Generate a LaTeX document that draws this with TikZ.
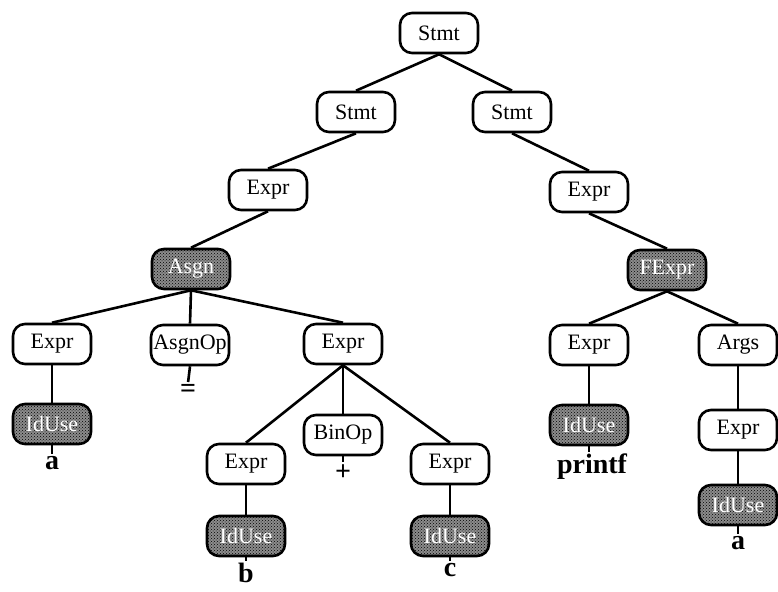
\documentclass[tikz,border=0pt]{standalone}
\usepackage{fontspec}
\setmainfont{Liberation Serif}
\usetikzlibrary{patterns}
\begin{document}
\begin{tikzpicture}[x=1pt,y=-1pt,
  tn/.style={draw, line width=2.6pt, rounded corners=12pt, minimum width=78pt,
    minimum height=40pt, inner xsep=2pt, inner ysep=0pt,
    font=\fontsize{22}{22}\selectfont},
  sh/.style={tn, preaction={fill=black!45}, pattern=crosshatch dots, pattern color=black, text=white},
  leaf/.style={font=\bfseries\fontsize{28}{28}\selectfont, inner sep=1pt},
  edge/.style={line width=2.6pt},
  tick/.style={line width=2.6pt, shorten >=1pt}]
\useasboundingbox (0,0) rectangle (778,591);

% nodes
\node[tn] (root) at (439,33) {Stmt};
\node[tn] (sl) at (356,112) {Stmt};
\node[tn] (sr) at (512,112) {Stmt};
\node[tn] (el) at (268,190) {Expr};
\node[tn] (er) at (589,192) {Expr};
\node[sh] (asgn) at (191,269) {Asgn};
\node[sh] (fexpr) at (667,270) {FExpr};
\node[tn] (e1) at (52,344) {Expr};
\node[tn] (aop) at (190,345) {AsgnOp};
\node[tn] (e2) at (343,344) {Expr};
\node[tn] (e3) at (589,345) {Expr};
\node[tn] (args) at (738,345) {Args};
\node[sh] (id1) at (52,424) {IdUse};
\node[tn] (binop) at (343,435) {BinOp};
\node[tn] (e4) at (246,464) {Expr};
\node[tn] (e5) at (450,464) {Expr};
\node[sh] (id3) at (589,425) {IdUse};
\node[tn] (e6) at (738,430) {Expr};
\node[sh] (id4) at (738,505) {IdUse};
\node[sh] (idb) at (246,536) {IdUse};
\node[sh] (idc) at (450,536) {IdUse};

% leaves
\node[leaf, anchor=north] (la) at (52,455) {a};
\node[leaf, anchor=north] (leq) at (188,383) {=};
\node[leaf, anchor=north] (lplus) at (343,463) {+};
\node[leaf, anchor=north] (lpf) at (592,453) {printf};
\node[leaf, anchor=north] (la2) at (738,535) {a};
\node[leaf, anchor=north] (lb) at (246,562) {b};
\node[leaf, anchor=north] (lc) at (450,562) {c};

% edges
\draw[edge] (root.south) -- (sl.north);
\draw[edge] (root.south) -- (sr.north);
\draw[edge] (sl.south) -- (el.north);
\draw[edge] (sr.south) -- (er.north);
\draw[edge] (el.south) -- (asgn.north);
\draw[edge] (er.south) -- (fexpr.north);
\draw[edge] (asgn.south) -- (e1.north);
\draw[edge] (asgn.south) -- (aop.north);
\draw[edge] (asgn.south) -- (e2.north);
\draw[edge] (fexpr.south) -- (e3.north);
\draw[edge] (fexpr.south) -- (args.north);
\draw[edge] (e1.south) -- (id1.north);
\draw[edge] (e2.south) -- (binop.north);
\draw[edge] (e2.south) -- (e4.north);
\draw[edge] (e2.south) -- (e5.north);
\draw[edge] (e3.south) -- (id3.north);
\draw[edge] (args.south) -- (e6.north);
\draw[edge] (e6.south) -- (id4.north);
\draw[edge] (e4.south) -- (idb.north);
\draw[edge] (e5.south) -- (idc.north);

% ticks to leaves
\draw[tick] (id1.south) -- (la.north);
\draw[tick] (aop.south) -- (leq.north);
\draw[tick] (binop.south) -- (lplus.north);
\draw[tick] (id3.south) -- (lpf.north -| id3.south);
\draw[tick] (id4.south) -- (la2.north);
\draw[tick] (idb.south) -- (lb.north);
\draw[tick] (idc.south) -- (lc.north);
\end{tikzpicture}
\end{document}
